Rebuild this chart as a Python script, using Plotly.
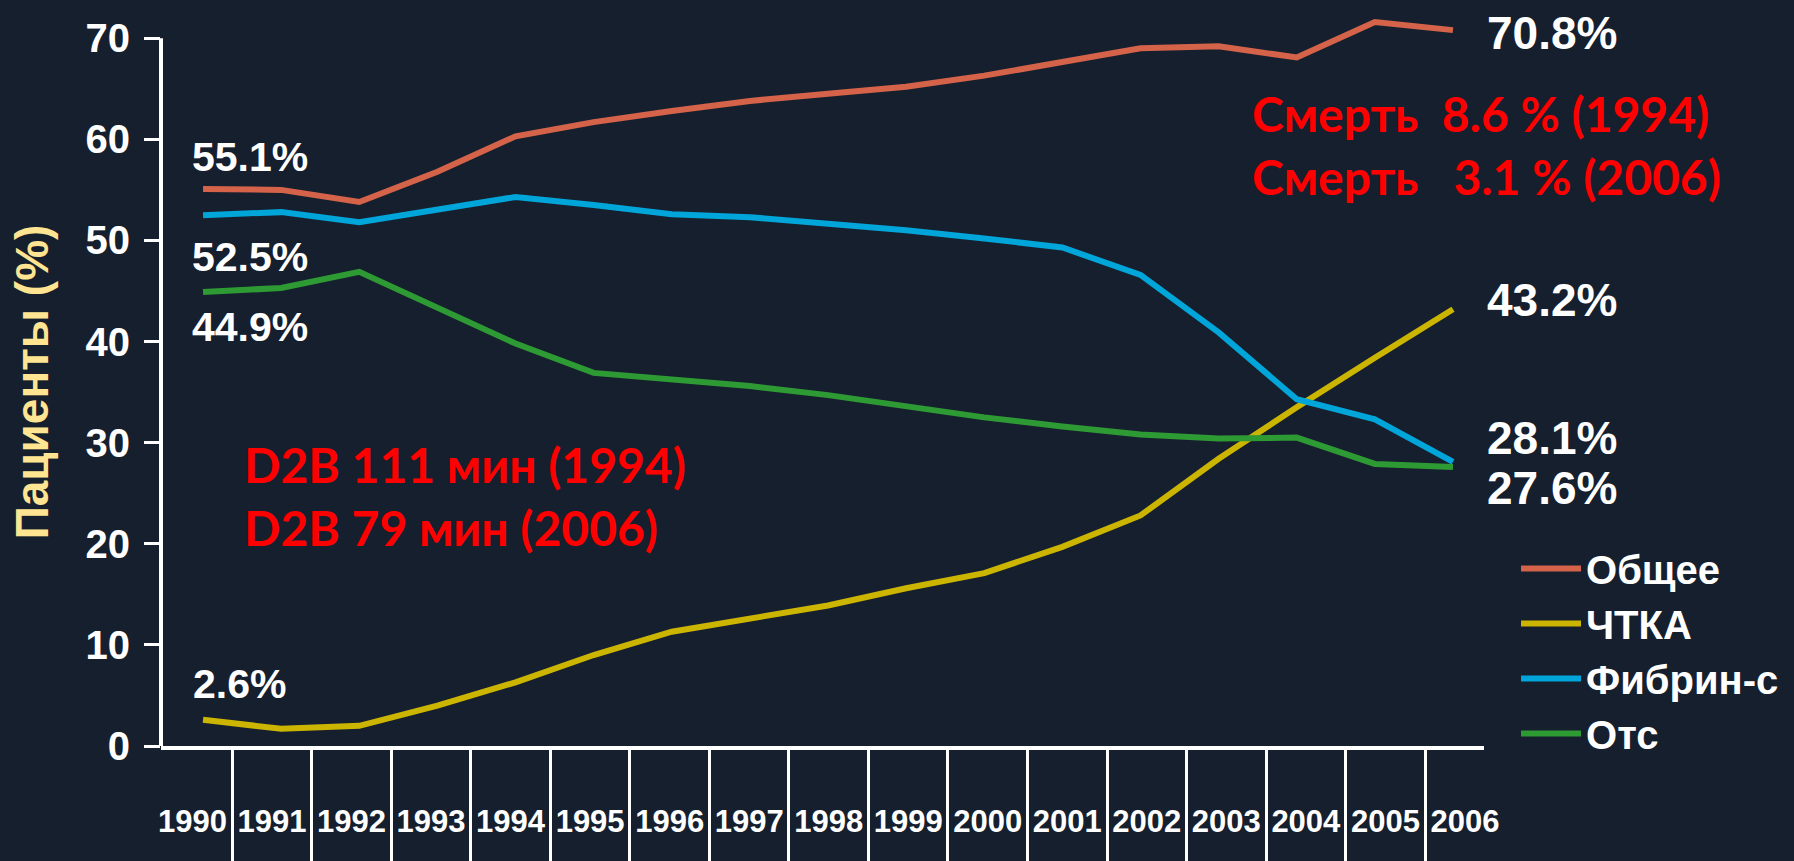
import plotly.graph_objects as go

# years on the x axis and the labels printed under each box
years = list(range(1990, 2007))
year_labels = [str(y) for y in years]

# share of patients (%) per year
total = [55.1, 55.0, 53.8, 56.8, 60.3, 61.7, 62.8, 63.8, 64.5, 65.2, 66.3, 67.7, 69.0, 69.2, 68.1, 71.6, 70.8]
pci = [2.6, 1.7, 2.0, 4.0, 6.3, 9.0, 11.3, 12.6, 13.9, 15.6, 17.1, 19.7, 22.8, 28.4, 33.5, 38.4, 43.2]
fibrin = [52.5, 52.8, 51.8, 53.0, 54.3, 53.5, 52.6, 52.3, 51.7, 51.0, 50.2, 49.3, 46.6, 40.9, 34.3, 32.3, 28.1]
none_tx = [44.9, 45.3, 46.9, 43.3, 39.8, 36.9, 36.3, 35.6, 34.7, 33.6, 32.5, 31.6, 30.8, 30.4, 30.5, 27.9, 27.6]

y_ticks = [0, 10, 20, 30, 40, 50, 60, 70]

series = [
    ('Общее', total, '#D4634A'),
    ('ЧТКА', pci, '#CBB500'),
    ('Фибрин-с', fibrin, '#00A5D9'),
    ('Отс', none_tx, '#2E9A34'),
]

BG = '#161F2E'
BOLD = 'Liberation Sans, Arial, sans-serif'
CALIBRI_LIKE = 'Lato, Open Sans, sans-serif'

fig = go.Figure()

for name, values, color in series:
    fig.add_trace(go.Scatter(
        x=years,
        y=values,
        mode='lines',
        name=name,
        line=dict(color=color, width=6),
        hovertemplate=name + ': %{y}%<extra></extra>'
    ))

# empty trace so the year-box axis gets drawn
fig.add_trace(go.Scatter(x=years, y=[None] * len(years), xaxis='x2', mode='lines',
                         showlegend=False, hoverinfo='skip'))

# white value labels at the start and the end of the lines
labels_left = [('55.1%', 0.0673, 0.809), ('52.5%', 0.0673, 0.672),
               ('44.9%', 0.0673, 0.5755), ('2.6%', 0.0597, 0.0852)]
labels_right = [('70.8%', 1.0008, 0.979), ('43.2%', 1.0008, 0.6126),
                ('28.1%', 1.0008, 0.423), ('27.6%', 1.0008, 0.354)]

annotations = []
for text, x, y in labels_left:
    annotations.append(dict(text=text, x=x, y=y, xref='paper', yref='paper',
                            xanchor='center', yanchor='middle', showarrow=False,
                            font=dict(family=BOLD, size=41, color='white', weight='bold')))
for text, x, y in labels_right:
    annotations.append(dict(text=text, x=x, y=y, xref='paper', yref='paper',
                            xanchor='left', yanchor='middle', showarrow=False,
                            font=dict(family=BOLD, size=46, color='white', weight='bold')))

# red notes (non-breaking spaces keep the gaps)
notes = [
    ('Смерть\u00a0\u00a08.6\u00a0%\u00a0(1994)', 0.823, 0.8695),
    ('Смерть\u00a0\u00a0\u00a03.1\u00a0%\u00a0(2006)', 0.823, 0.7816),
    ('D2B 111 мин (1994)', 0.0612, 0.387),
    ('D2B 79 мин (2006)', 0.0612, 0.300),
]
for text, x, y in notes:
    annotations.append(dict(text=text, x=x, y=y, xref='paper', yref='paper',
                            xanchor='left', yanchor='middle', showarrow=False,
                            font=dict(family=CALIBRI_LIKE, size=48, color='#FF0000', weight='bold')))

fig.update_layout(
    width=1794,
    height=861,
    margin=dict(l=161, r=310, t=18, b=115, autoexpand=False),
    paper_bgcolor=BG,
    plot_bgcolor=BG,
    font=dict(family=BOLD, color='white'),
    annotations=annotations,
    # y axis line stops at the 70 tick, the red line may go a bit above it
    shapes=[dict(type='line', xref='paper', yref='y', x0=0, x1=0, y0=0, y1=70,
                 line=dict(color='white', width=4))],
    # axis that carries the lines
    xaxis=dict(
        range=[1989.462, 2006.397],
        showline=True, linecolor='white', linewidth=4,
        showticklabels=False, ticks='', showgrid=False, zeroline=False,
    ),
    # axis with the year boxes
    xaxis2=dict(
        overlaying='x', side='bottom', anchor='y',
        range=[1989.604, 2006.24],
        tickmode='array', tickvals=years, ticktext=year_labels,
        tickangle=0,
        ticks='', showline=False, showgrid=False, zeroline=False,
        ticklabelstandoff=54,
        tickfont=dict(family=BOLD, size=31, color='white', weight='bold'),
        minor=dict(ticks='outside', ticklen=115, tickwidth=3, tickcolor='white',
                   tickmode='array', tickvals=[y + 0.5 for y in years[:-1]], showgrid=False),
    ),
    yaxis=dict(
        range=[0, 72],
        tickmode='array', tickvals=y_ticks,
        ticks='outside', ticklen=16, tickwidth=3, tickcolor='white',
        ticklabelstandoff=6,
        showline=False,
        showgrid=False, zeroline=False,
        tickfont=dict(family=BOLD, size=40, color='white', weight='bold'),
        title=dict(text='Пациенты (%)', standoff=22,
                   font=dict(family=BOLD, size=46, color='#FFE491', weight='bold')),
    ),
    legend=dict(
        x=1.0242, y=0.2885, xanchor='left', yanchor='top',
        itemwidth=60,
        bgcolor='rgba(0,0,0,0)',
        font=dict(family=BOLD, size=40, color='white', weight='bold'),
        tracegroupgap=0,
    ),
    showlegend=True,
)

fig.write_html("out.html", config={'displayModeBar': False},
               post_script="document.body.style.margin='0px';")
